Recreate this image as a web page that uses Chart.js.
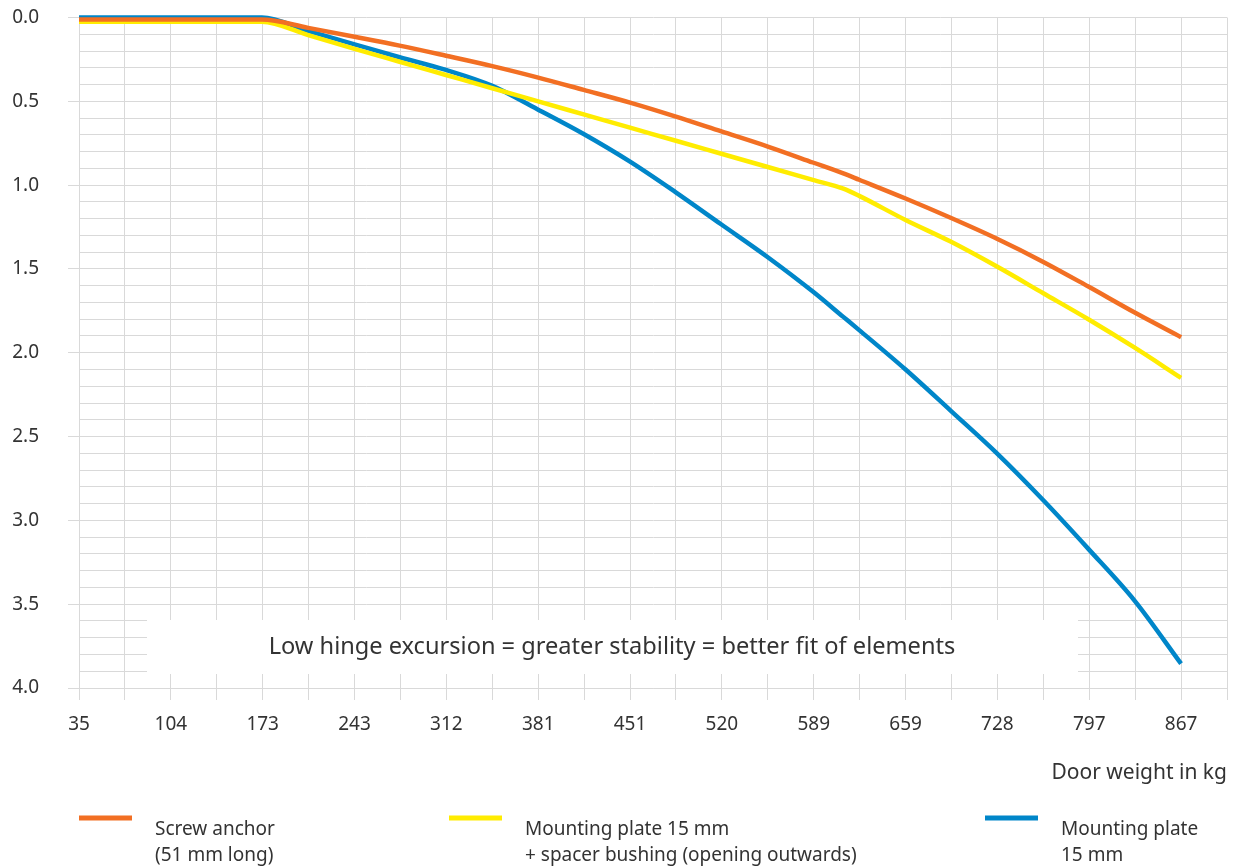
<!DOCTYPE html>
<html>
<head>
<meta charset="utf-8">
<script src="https://cdn.jsdelivr.net/npm/chart.js@4.4.1/dist/chart.umd.min.js"></script>
<style>
  html, body { margin: 0; padding: 0; background: #fff; overflow: hidden; }
  #wrap { width: 1238px; height: 866px; position: relative; }
</style>
</head>
<body>
<div id="wrap"><canvas id="hingeChart"></canvas></div>
<script>
const weights = [35, 173, 208, 243, 277, 312, 347, 381, 416, 451, 485, 520, 555, 589, 612, 624, 659, 693, 728, 763, 797, 832, 867];

const screwAnchor = [0.012, 0.012, 0.062, 0.115, 0.168, 0.228, 0.29, 0.357, 0.432, 0.508, 0.59, 0.68, 0.77, 0.865, 0.93, 0.968, 1.08, 1.195, 1.32, 1.458, 1.605, 1.76, 1.907];
const plateBushing = [0.025, 0.025, 0.105, 0.187, 0.264, 0.343, 0.422, 0.499, 0.578, 0.657, 0.734, 0.813, 0.892, 0.969, 1.021, 1.064, 1.208, 1.337, 1.486, 1.645, 1.80, 1.97, 2.15];
const plate15 = [0.0, 0.0, 0.08, 0.16, 0.237, 0.313, 0.408, 0.547, 0.695, 0.86, 1.04, 1.235, 1.43, 1.635, 1.786, 1.865, 2.10, 2.345, 2.60, 2.88, 3.17, 3.48, 3.855];

const xTickLabels = ['35', '104', '173', '243', '312', '381', '451', '520', '589', '659', '728', '797', '867'];
const seriesNames = [
  ['Screw anchor', '(51 mm long)'],
  ['Mounting plate 15 mm', '+ spacer bushing (opening outwards)'],
  ['Mounting plate', '15 mm']
];
const seriesColors = ['#f26f23', '#ffec00', '#0086c9'];
const noteText = 'Low hinge excursion = greater stability = better fit of elements';

const xStep = (867 - 35) / 24;
const gridColor = '#d9d9d9';
const textColor = '#333333';

Chart.defaults.font.family = "'Noto Sans', sans-serif";
Chart.defaults.color = textColor;

function pts(vals) {
  return weights.map((w, i) => ({ x: w, y: vals[i] }));
}

function isHalf(v) {
  return Math.abs(v * 2 - Math.round(v * 2)) < 1e-6;
}

// white box with the note, and the custom legend underneath
const extrasPlugin = {
  id: 'extras',
  beforeDatasetsDraw(chart) {
    const ctx = chart.ctx;
    ctx.save();
    ctx.fillStyle = '#fff';
    ctx.fillRect(147, 620, 931, 54);
    ctx.fillStyle = textColor;
    ctx.font = "23.6px 'Noto Sans', sans-serif";
    ctx.textAlign = 'center';
    ctx.textBaseline = 'alphabetic';
    ctx.fillText(noteText, 612, 654);
    ctx.restore();
  },
  afterDraw(chart) {
    const ctx = chart.ctx;
    const starts = [79, 449, 985];
    ctx.save();
    ctx.font = "19px 'Noto Sans', sans-serif";
    ctx.textAlign = 'left';
    ctx.textBaseline = 'alphabetic';
    seriesNames.forEach((lines, i) => {
      ctx.fillStyle = seriesColors[i];
      ctx.fillRect(starts[i], 815.5, 53, 5);
      ctx.fillStyle = textColor;
      ctx.fillText(lines[0], starts[i] + 76, 835);
      ctx.fillText(lines[1], starts[i] + 76, 861);
    });
    ctx.restore();
  }
};

const data = {
  datasets: [
    { label: seriesNames[0].join(' '), data: pts(screwAnchor), borderColor: seriesColors[0] },
    { label: seriesNames[1].join(' '), data: pts(plateBushing), borderColor: seriesColors[1] },
    { label: seriesNames[2].join(' '), data: pts(plate15), borderColor: seriesColors[2] }
  ].map(d => Object.assign(d, {
    borderWidth: 4.5,
    pointRadius: 0,
    fill: false,
    cubicInterpolationMode: 'monotone',
    clip: false
  }))
};

const config = {
  type: 'line',
  data: data,
  options: {
    responsive: true,
    maintainAspectRatio: false,
    animation: false,
    layout: { padding: { top: 17.5, right: 11, left: 0, bottom: 80 } },
    plugins: {
      legend: { display: false },
      tooltip: { enabled: false }
    },
    scales: {
      x: {
        type: 'linear',
        min: 35,
        max: 35 + 25 * xStep,
        afterFit: s => { s.height = 98; s.paddingLeft = 0; s.paddingRight = 0; },
        grid: { color: gridColor, tickLength: 12, tickColor: gridColor },
        border: { color: gridColor },
        ticks: {
          stepSize: xStep,
          autoSkip: false,
          maxRotation: 0,
          padding: 13,
          font: { size: 19 },
          callback: (v, i) => (i % 2 === 0 ? xTickLabels[i / 2] : '')
        },
        title: {
          display: true,
          text: 'Door weight in kg',
          align: 'end',
          font: { size: 21 },
          padding: { top: 25, bottom: 0 }
        }
      },
      y: {
        min: 0,
        max: 4,
        reverse: true,
        afterFit: s => { s.width = 79; s.paddingTop = 0; s.paddingBottom = 0; },
        grid: {
          color: gridColor,
          tickLength: 11,
          tickColor: c => (isHalf(c.tick.value) ? gridColor : 'rgba(0,0,0,0)')
        },
        border: { color: gridColor },
        ticks: {
          stepSize: 0.1,
          autoSkip: false,
          padding: 29,
          font: { size: 19 },
          callback: v => (isHalf(v) ? v.toFixed(1) : '')
        }
      }
    }
  },
  plugins: [extrasPlugin]
};

const hingeChart = new Chart(document.getElementById('hingeChart'), config);
</script>
</body>
</html>
